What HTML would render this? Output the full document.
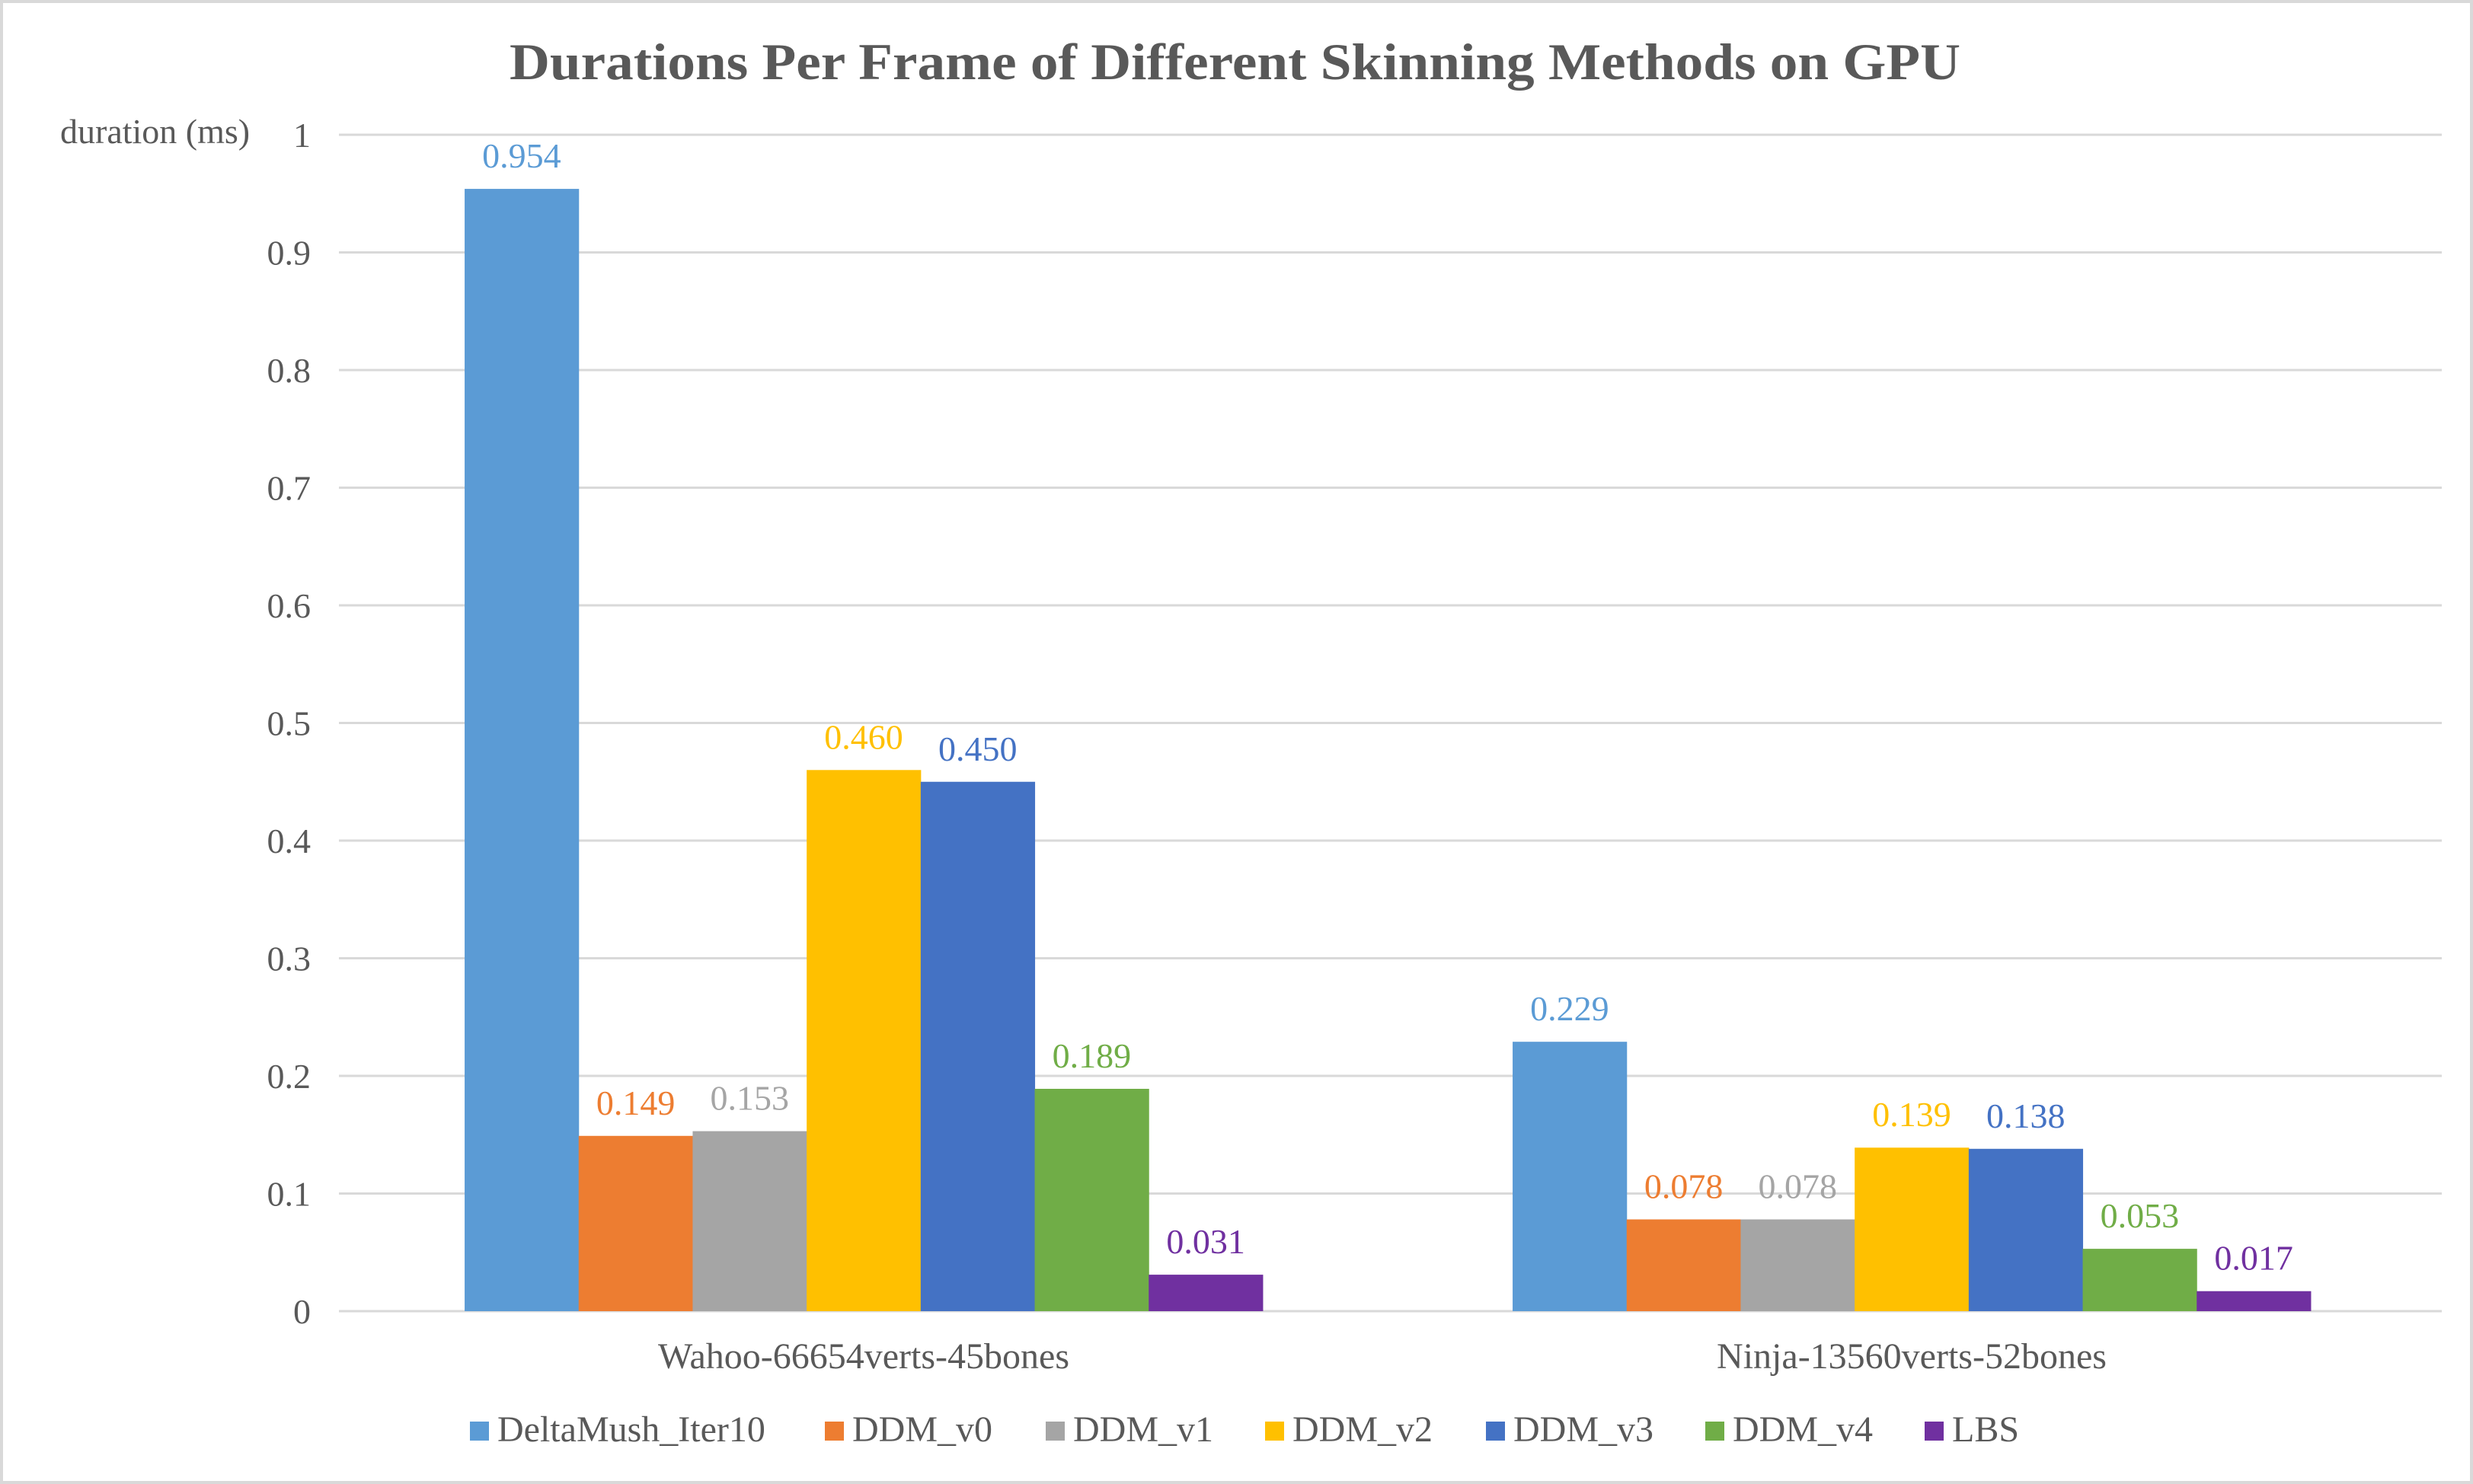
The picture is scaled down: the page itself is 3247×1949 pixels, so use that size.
<!DOCTYPE html>
<html><head><meta charset="utf-8"><style>
html,body{margin:0;padding:0;background:#fff;}
svg{display:block;font-family:"Liberation Serif",serif;}
</style></head><body>
<svg id="chart" width="3247" height="1949" viewBox="0 0 3247 1949">
<rect x="2" y="2" width="3243" height="1945" fill="#fff" stroke="#d9d9d9" stroke-width="4"/>
<text x="669" y="104" textLength="1905" lengthAdjust="spacingAndGlyphs" font-size="68" font-weight="bold" fill="#595959">Durations Per Frame of Different Skinning Methods on GPU</text>
<text x="79" y="188" font-size="46" fill="#595959">duration (ms)</text>
<g id="grid"></g><g id="bars"></g><g id="legend"></g>
</svg>
<script>
const categories = ["Wahoo-66654verts-45bones", "Ninja-13560verts-52bones"];
const seriesNames = ["DeltaMush_Iter10","DDM_v0","DDM_v1","DDM_v2","DDM_v3","DDM_v4","LBS"];
const seriesColors = ["#5b9bd5","#ed7d31","#a5a5a5","#ffc000","#4472c4","#70ad47","#7030a0"];
const valuesWahoo = [0.954,0.149,0.153,0.460,0.450,0.189,0.031];
const valuesNinja = [0.229,0.078,0.078,0.139,0.138,0.053,0.017];
const yTicks = [0,0.1,0.2,0.3,0.4,0.5,0.6,0.7,0.8,0.9,1];
const yTickLabels = ["0","0.1","0.2","0.3","0.4","0.5","0.6","0.7","0.8","0.9","1"];

const NS="http://www.w3.org/2000/svg";
const plotL=446, plotR=3198, y0=1722, y1=177;
const yScale=v=>y0-(v/1)*(y0-y1);
const catW=(plotR-plotL)/categories.length;
const barW=149.7;
const xBand=(ci,si)=>plotL+ci*catW+(catW-barW*seriesNames.length)/2+si*barW;
function mk(tag,attrs,parent){const e=document.createElementNS(NS,tag);for(const k in attrs)e.setAttribute(k,attrs[k]);parent.appendChild(e);return e;}
const grid=document.getElementById('grid'), bars=document.getElementById('bars'), legend=document.getElementById('legend');
yTicks.forEach((t,i)=>{
  const y=yScale(t);
  const l=mk('line',{x1:445,x2:3206,y1:y,y2:y,stroke:'#d9d9d9','stroke-width':3},grid);
  
  
  const tx=mk('text',{x:408,y:y+16,'text-anchor':'end','font-size':46,fill:'#595959'},grid);
  tx.textContent=yTickLabels[i];
  
  
});
const allVals=[valuesWahoo,valuesNinja];
categories.forEach((c,ci)=>{
  const lab=mk('text',{x:plotL+ci*catW+catW/2,y:1797,'text-anchor':'middle','font-size':48,fill:'#595959'},bars);
  lab.textContent=c;
  
  
  seriesNames.forEach((s,si)=>{
    const v=allVals[ci][si];
    const x=xBand(ci,si), y=yScale(v);
    const r=mk('rect',{x:x,y:y,width:barW+0.5,height:y0-y,fill:seriesColors[si]},bars);
    
    
    const t=mk('text',{x:x+barW/2,y:y-28,'text-anchor':'middle','font-size':46,fill:seriesColors[si]},bars);
    t.textContent=v.toFixed(3);
    
    
  });
});
const legX=[617,1083,1373,1661,1951,2239,2527];
seriesNames.forEach((s,si)=>{
  const g=mk('g',{},legend);
  
  
  mk('rect',{x:legX[si],y:1867,width:25,height:25,fill:seriesColors[si]},g);
  const t=mk('text',{x:legX[si]+36,y:1893,'font-size':48,fill:'#595959'},g);
  t.textContent=s;
});
</script>
</body></html>
